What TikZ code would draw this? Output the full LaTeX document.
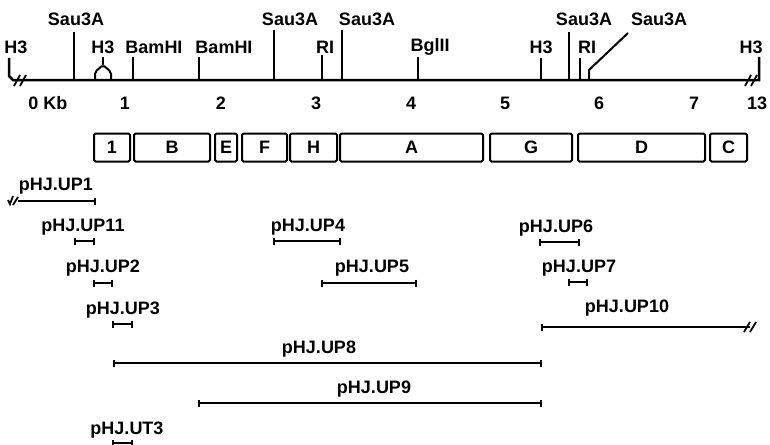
\documentclass[tikz,border=0pt]{standalone}
\usepackage{fontspec}
\setmainfont{Liberation Sans}
\usetikzlibrary{arrows.meta}
\begin{document}
\begin{tikzpicture}[x=1pt,y=-1pt,
    every node/.style={font=\bfseries\fontsize{18}{18}\selectfont,inner sep=0pt},
    site/.style={line width=2pt},
    brk/.style={line width=1.8pt},
    frag/.style={line width=2pt,{Bar[width=7pt,line width=2pt]}-{Bar[width=7pt,line width=2pt]}},
    seg/.style={draw,line width=2pt,rounded corners=1.5pt,minimum height=28pt,anchor=west}]
    \useasboundingbox (0,0) rectangle (770,444);
    % restriction map
    \draw[line width=2.5pt] (9,58) -- (9,76) -- (13,80) -- (759,80) -- (759,57);
    \draw[brk] (14,86) -- (20,75) (20,86) -- (26,75);
    \draw[brk] (745,86) -- (751,75) (751,86) -- (757,75);
    \draw[site] (74,80) -- (74,32);
    \draw[site,rounded corners=2pt] (95,80) -- (95,72) -- (103,65) -- (111,72) -- (111,80);
    \draw[site] (103,65) -- (103,57);
    \draw[site] (133,80) -- (133,57);
    \draw[site] (199,80) -- (199,57);
    \draw[site] (274,80) -- (274,30);
    \draw[site] (322,80) -- (322,55);
    \draw[site] (342,80) -- (342,30);
    \draw[site] (418,80) -- (418,57);
    \draw[site] (541,80) -- (541,58);
    \draw[site] (569,80) -- (569,32);
    \draw[site] (580,80) -- (580,58);
    \draw[site] (589,80) -- (589,70) -- (628,33);
    \node (h3a) at (16,47) {H3};
    \node (sau1) at (76,19) {Sau3A};
    \node (h3b) at (103,47) {H3};
    \node (bam1) at (154,47) {BamHI};
    \node (bam2) at (224,47) {BamHI};
    \node (sau2) at (290,19) {Sau3A};
    \node (ri1) at (325,47) {RI};
    \node (sau3) at (367,19) {Sau3A};
    \node (bgl) at (430,47) {BglII};
    \node (h3c) at (541,47) {H3};
    \node (sau4) at (584,19) {Sau3A};
    \node (ri2) at (587,47) {RI};
    \node (sau5) at (659,19) {Sau3A};
    \node (h3d) at (751,47) {H3};
    % kb scale
    \node (kb0) at (48,103) {0 Kb};
    \node (kb1) at (125,103) {1};
    \node (kb2) at (221,103) {2};
    \node (kb3) at (316,103) {3};
    \node (kb4) at (411,103) {4};
    \node (kb5) at (505,103) {5};
    \node (kb6) at (599,103) {6};
    \node (kb7) at (694,103) {7};
    \node (kb13) at (757,103) {13};
    % fragments
    \node[seg,minimum width=36pt] (seg1) at (93,147.5) {1};
    \node[seg,minimum width=76pt] (segB) at (133,147.5) {B};
    \node[seg,minimum width=22pt] (segE) at (214,147.5) {E};
    \node[seg,minimum width=45pt] (segF) at (241,147.5) {F};
    \node[seg,minimum width=47pt] (segH) at (289,147.5) {H};
    \node[seg,minimum width=143pt] (segA) at (339,147.5) {A};
    \node[seg,minimum width=82pt] (segG) at (489,147.5) {G};
    \node[seg,minimum width=127pt] (segD) at (577,147.5) {D};
    \node[seg,minimum width=37pt] (segC) at (709,147.5) {C};
    % clones
    \node (up1) at (56,186) {pHJ.UP1};
    \draw[line width=2pt,-{Bar[width=7pt,line width=2pt]}] (18,201) -- (96,201);
    \draw[brk] (8,200) -- (10,204) -- (13,196) (13,205) -- (18,197);
    \node (up11) at (83,227) {pHJ.UP11};
    \draw[frag] (74,241) -- (95,241);
    \node (up2) at (103,268) {pHJ.UP2};
    \draw[frag] (93,283) -- (113,283);
    \node (up3) at (123,310) {pHJ.UP3};
    \draw[frag] (112,324) -- (133,324);
    \node (up4) at (308,227) {pHJ.UP4};
    \draw[frag] (273,241) -- (341,241);
    \node (up5) at (372,268) {pHJ.UP5};
    \draw[frag] (321,283) -- (417,283);
    \node (up6) at (556,228) {pHJ.UP6};
    \draw[frag] (539,242) -- (580,242);
    \node (up7) at (579,268) {pHJ.UP7};
    \draw[frag] (568,282) -- (588,282);
    \node (up10) at (627,308) {pHJ.UP10};
    \draw[line width=2pt,{Bar[width=7pt,line width=2pt]}-] (541,327) -- (750,327);
    \draw[brk] (744,332) -- (750,322) (750,332) -- (756,322);
    \node (up8) at (319,349) {pHJ.UP8};
    \draw[frag] (113,363) -- (542,363);
    \node (up9) at (374,389) {pHJ.UP9};
    \draw[frag] (198,403) -- (542,403);
    \node (ut3) at (127,430) {pHJ.UT3};
    \draw[frag] (112,443) -- (133,443);
\end{tikzpicture}
\end{document}
